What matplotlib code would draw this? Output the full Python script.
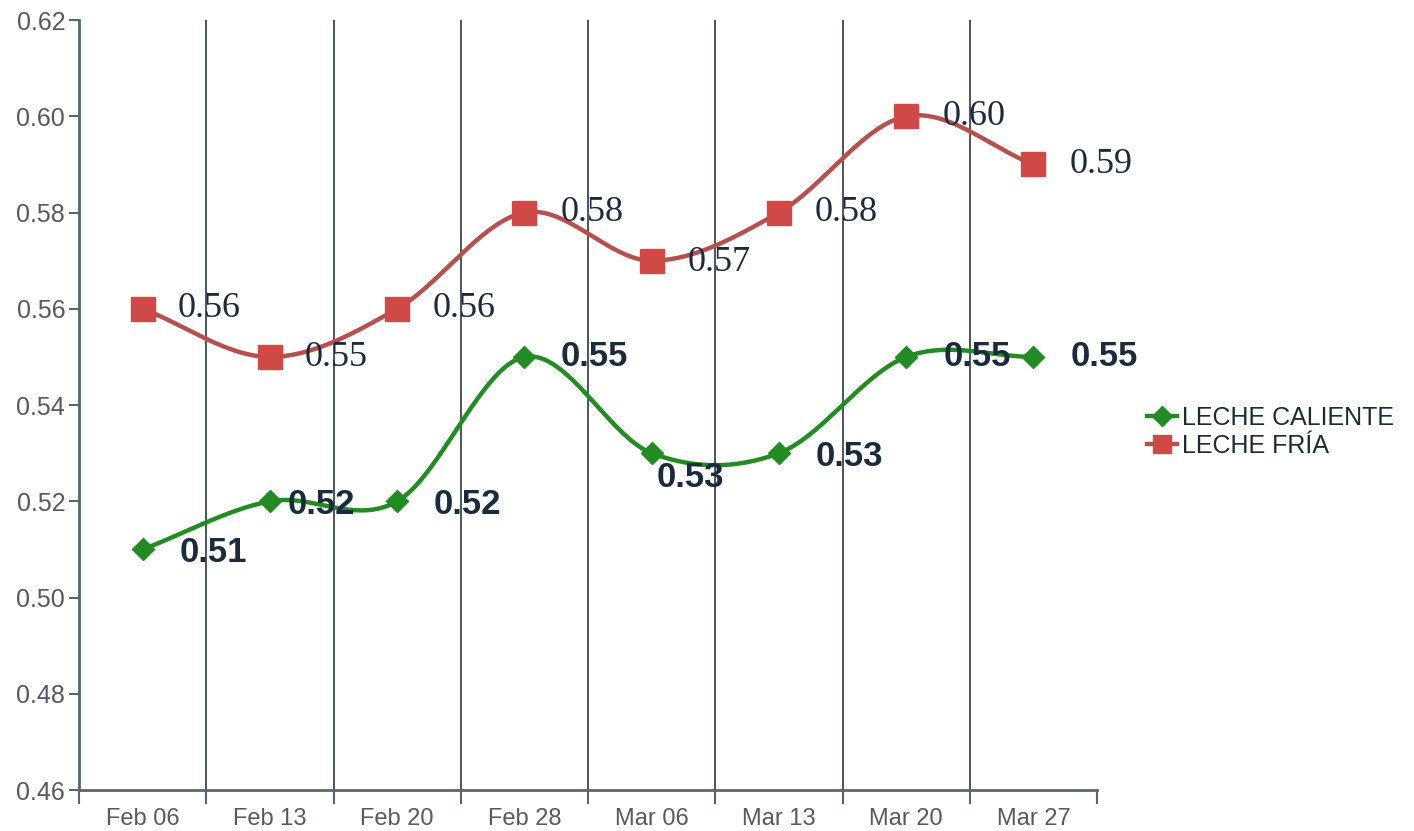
import numpy as np
import matplotlib.pyplot as plt

# data
weeks = ["Feb 06", "Feb 13", "Feb 20", "Feb 28", "Mar 06", "Mar 13", "Mar 20", "Mar 27"]
leche_caliente = [0.51, 0.52, 0.52, 0.55, 0.53, 0.53, 0.55, 0.55]
leche_fria = [0.56, 0.55, 0.56, 0.58, 0.57, 0.58, 0.60, 0.59]

# label offsets (pixels, dx, dy) - styling only
off_caliente = [(37, -3), (18, -3), (36, -3), (36, 0), (5, -24), (37, -3), (37, 0), (37, 0)]
off_fria = [(35, 0), (35, -1), (35, 0), (36, 0), (36, -2), (36, 0), (36, 0), (36, 0)]


def catmull(x, y, n=40):
    x = np.asarray(x, float)
    y = np.asarray(y, float)
    m = np.gradient(y, x)
    xs, ys = [], []
    for i in range(len(x) - 1):
        t = np.linspace(0, 1, n)
        h = x[i + 1] - x[i]
        h00 = 2 * t**3 - 3 * t**2 + 1
        h10 = t**3 - 2 * t**2 + t
        h01 = -2 * t**3 + 3 * t**2
        h11 = t**3 - t**2
        xs.append(x[i] + t * h)
        ys.append(h00 * y[i] + h10 * h * m[i] + h01 * y[i + 1] + h11 * h * m[i + 1])
    return np.concatenate(xs), np.concatenate(ys)


fig = plt.figure(figsize=(14.14, 8.31), dpi=100)
ax = fig.add_axes([0.0559, 0.0493, 0.72, 0.9266])

x = np.arange(len(weeks))
px = 0.72  # points per pixel

red_line = "#b5504f"
red_mk = "#cf4a46"
green = "#238b23"
label_col = "#1b2a3d"
axis_col = "#5a6470"

for i in range(1, len(weeks)):
    ax.axvline(i - 0.5, color="#3a4654", lw=1.3, zorder=1)

sx, sy = catmull(x, leche_fria)
ax.plot(sx, sy, color=red_line, lw=3.2, zorder=3)
ax.plot(x, leche_fria, ls="none", marker="s", ms=17, color=red_mk, zorder=4)
sx, sy = catmull(x, leche_caliente)
ax.plot(sx, sy, color=green, lw=3.2, zorder=3)
ax.plot(x, leche_caliente, ls="none", marker="D", ms=11, color=green, zorder=4)

h1, = ax.plot([], [], color=green, lw=3.2, marker="D", ms=10, label="LECHE CALIENTE")
h2, = ax.plot([], [], color=red_line, lw=3.2, marker="s", ms=13, mfc=red_mk, mec=red_mk, label="LECHE FRÍA")

for xi, v, (dx, dy) in zip(x, leche_fria, off_fria):
    ax.annotate(f"{v:.2f}", (xi, v), xytext=(dx * px, dy * px), textcoords="offset points",
                ha="left", va="center", fontsize=26, family="Liberation Serif",
                color=label_col, zorder=5)
for xi, v, (dx, dy) in zip(x, leche_caliente, off_caliente):
    ax.annotate(f"{v:.2f}", (xi, v), xytext=(dx * px, dy * px), textcoords="offset points",
                ha="left", va="center", fontsize=25, fontweight="bold", family="Liberation Sans",
                color=label_col, zorder=5)

ax.set_xlim(-0.5, len(weeks) - 0.5)
ax.set_ylim(0.46, 0.62)
ax.set_yticks(np.arange(0.46, 0.621, 0.02))
ax.set_yticklabels([f"{t:.2f}" for t in np.arange(0.46, 0.621, 0.02)])
ax.set_xticks(x)
ax.set_xticklabels(weeks)
ax.set_xticks(np.arange(-0.5, len(weeks)), minor=True)
ax.tick_params(axis="x", which="major", length=0, pad=13)
ax.tick_params(axis="x", which="minor", length=10, width=1.5, color=axis_col)
ax.tick_params(axis="y", length=7, width=1.5, color=axis_col, pad=3)
for lab in ax.get_yticklabels():
    lab.set_family("Liberation Sans")
    lab.set_fontsize(18)
    lab.set_color("#555a60")
for lab in ax.get_xticklabels():
    lab.set_family("Liberation Sans")
    lab.set_fontsize(17)
    lab.set_color("#555a60")

for s in ["top", "right"]:
    ax.spines[s].set_visible(False)
for s in ["left", "bottom"]:
    ax.spines[s].set_color(axis_col)
    ax.spines[s].set_linewidth(2)

fig.legend(handles=[h1, h2], loc="center left", bbox_to_anchor=(0.795, 0.48),
           frameon=False, handlelength=1.2, handletextpad=0.2, labelspacing=0.15,
           prop={"family": "Liberation Sans", "size": 18}, labelcolor="#1e2a36")

fig.savefig("out.png", dpi=100)
